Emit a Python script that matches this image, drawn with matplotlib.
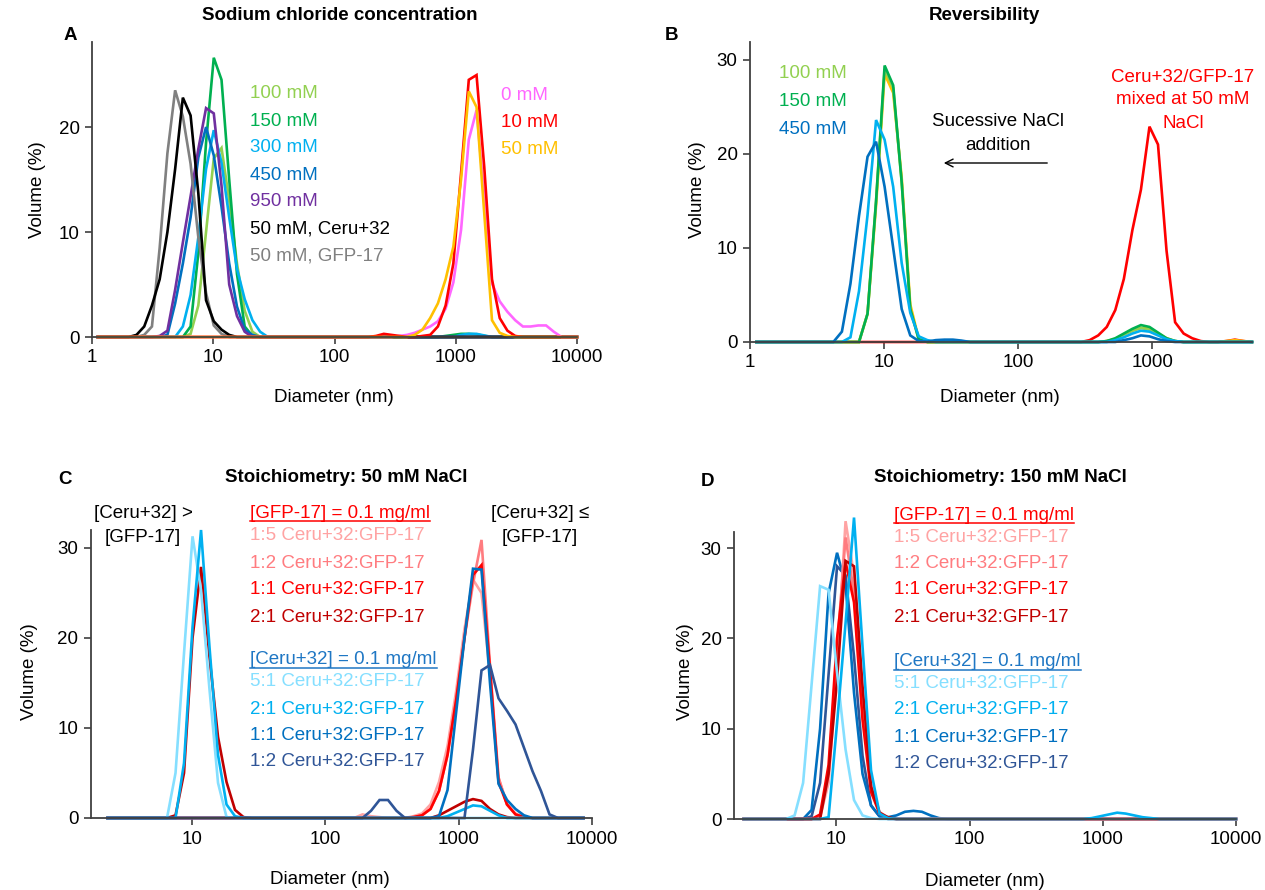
import numpy as np
import matplotlib
matplotlib.use("Agg")
import matplotlib.pyplot as plt

plt.rcParams['font.family'] = ['Liberation Sans', 'DejaVu Sans']

W, H = 1265, 890
FS = 13.5

# DLS size classes (nm)
BINS = [0.4, 0.4632, 0.5365, 0.6213, 0.7195, 0.8332, 0.9649, 1.117, 1.294, 1.499,
        1.736, 2.01, 2.328, 2.696, 3.122, 3.615, 4.187, 4.849, 5.615, 6.503,
        7.531, 8.721, 10.1, 11.7, 13.54, 15.69, 18.17, 21.04, 24.36, 28.21,
        32.67, 37.84, 43.82, 50.75, 58.77, 68.06, 78.82, 91.28, 105.7, 122.4,
        141.8, 164.2, 190.1, 220.2, 255.0, 295.3, 342.0, 396.1, 458.7, 531.2,
        615.1, 712.4, 825.0, 955.4, 1106, 1281, 1484, 1718, 1990, 2305,
        2669, 3091, 3580, 4145, 4801, 5560, 6439, 7456, 8635, 10000]

# curves: list of (first size class, volume % values from there on), zero elsewhere
# panel A - sodium chloride concentration
A_100MM = [(6.503, [0.3, 3, 10, 17, 18, 13, 7, 2.5, 0.5])]
A_150MM = [(6.503, [1, 8, 18.5, 26.6, 24.5, 15, 6, 1, 0.1]),
           (825.0, [0.1, 0.2, 0.3, 0.3, 0.25, 0.1])]
A_300MM = [(5.615, [1, 4, 9.5, 16, 19.7, 16.6, 11.4, 6.5, 3.6, 1.6, 0.5]),
           (1106, [0.2, 0.3, 0.3, 0.15])]
A_450MM = [(4.187, [0.2, 3.2, 7, 11.4, 17.1, 20, 17.3, 12.4, 7, 2.9, 0.7, 0.2])]
A_950MM = [(3.615, [0.1, 0.6, 4.5, 9, 13.4, 17.9, 21.8, 21.3, 14.4, 5, 2, 0.5])]
A_CERU = [(2.328, [0.2, 1.0, 3, 5.5, 10, 16, 22.8, 21.1, 13.7, 3.5, 1.5, 0.7, 0.2])]
A_GFP = [(2.696, [0.2, 1, 8.5, 17.5, 23.5, 21, 16.5, 9.5, 4.2, 1.1, 0.3])]
A_0MM = [(342.0, [0.1, 0.2, 0.4, 0.7, 1.0, 1.5, 2.7, 5.2, 10.2, 18.8, 21.6, 13.4, 5.1,
                  3.4, 2.4, 1.6, 1.0, 1.0, 1.1, 1.1, 0.5, 0])]
A_10MM = [(220.2, [0.1, 0.3, 0.2, 0.1, 0, 0, 0.1, 0.2, 1, 3, 7, 15.6, 24.5, 24.95,
                   16.2, 5.5, 1.8, 0.6, 0.1])]
A_50MM = [(458.7, [0.2, 0.7, 1.8, 3.2, 5.5, 8.6, 15, 23.4, 21.9, 11.8, 1.6, 0.4, 0.1])]

# panel B - reversibility
B_MIX = [(342.0, [0.2, 0.7, 1.6, 3.4, 6.7, 11.9, 16.2, 22.9, 21, 9.7, 2.1, 0.9, 0.4, 0.1]),
         (3580, [0.1, 0.25, 0.1])]
B_50 = [(6.503, [0, 3, 14.5, 28.5, 26.5, 17.5, 4, 0.3]),
        (458.7, [0.1, 0.3, 0.8, 1.2, 1.5, 1.4, 0.9, 0.4, 0.1]),
        (3580, [0.1, 0.2, 0.1])]
B_100 = [(6.503, [0, 3, 15, 29, 27, 17, 3.5, 0.2]),
         (458.7, [0.1, 0.3, 0.8, 1.2, 1.5, 1.3, 0.8, 0.3, 0.1])]
B_150 = [(6.503, [0, 3, 15, 29.4, 27.3, 17, 3.5, 0.3]),
         (458.7, [0.1, 0.4, 0.9, 1.4, 1.8, 1.6, 1.0, 0.4, 0.1])]
B_300 = [(5.615, [0.5, 5.4, 13.5, 23.6, 21.5, 16.5, 8.4, 3.1, 0.6, 0.2]),
         (531.2, [0.2, 0.5, 0.9, 1.2, 1.1, 0.7, 0.3, 0.1])]
B_450 = [(4.849, [1.1, 6.2, 13.4, 19.7, 21.3, 16.5, 10, 3.5, 0.7, 0.1, 0.05, 0.2, 0.25, 0.25, 0.15]),
         (615.1, [0.2, 0.4, 0.7, 0.6, 0.3, 0.1])]

# panel C - stoichiometry at 50 mM NaCl
C_R15 = [(190.1, [0.4, 0.2, 0.1]),
         (458.7, [0.2, 0.5, 1.5, 4, 8, 14, 21, 26.5, 25, 16, 4.5, 1.5, 0.5, 0.1])]
C_R12 = [(458.7, [0.1, 0.3, 1, 3, 7, 13, 20, 26, 30.9, 17, 4.5, 1.5, 0.4, 0.1])]
C_R11 = [(458.7, [0.1, 0.3, 1, 3, 7, 13, 20, 27, 28.1, 16.5, 4, 1.5, 0.4, 0.1])]
C_R21 = [(6.503, [0, 0.3, 5, 20, 27.9, 17.9, 9, 4, 0.9, 0.1]),
         (712.4, [0.3, 0.8, 1.3, 1.8, 2.1, 1.9, 1.0, 0.4, 0.1])]
C_B51 = [(6.503, [0, 5, 18.3, 31.3, 25.3, 14.3, 3.9, 0.1])]
C_B21 = [(7.531, [0, 6.1, 21.2, 32, 19, 7, 1.5, 0.2]),
         (825.0, [0.2, 0.6, 1.0, 1.4, 1.3, 0.8, 0.3])]
C_B11 = [(615.1, [0, 0.2, 3.1, 11.6, 20, 27.7, 27.6, 15, 3.8, 2, 1, 0.3])]
C_B12 = [(190.1, [0, 0.8, 2.0, 2.0, 0.8, 0]),
         (1106, [0, 7.6, 16.4, 17, 13.3, 11.9, 10.4, 7.8, 5.2, 3, 0.4, 0])]

# panel D - stoichiometry at 150 mM NaCl
D_R15 = [(7.531, [0.2, 4, 17, 33, 27, 13, 4, 0.8, 0.1])]
D_R12 = [(7.531, [0.3, 5, 19, 31.2, 25, 12, 3.5, 0.6, 0.1])]
D_R11 = [(7.531, [0.5, 6, 20, 28.5, 24, 11, 3, 0.6, 0.1])]
D_R21 = [(7.531, [0, 5, 15.4, 28.6, 28, 14.7, 3.6, 0.7, 0.2])]
D_B51 = [(4.849, [0.4, 4, 14.9, 25.8, 25.4, 16.2, 7.7, 2.1, 0.4, 0.1])]
D_B21 = [(8.721, [0.2, 10.6, 21.7, 33.4, 19.1, 5.4, 0.6, 0.1]),
         (825.0, [0.1, 0.3, 0.5, 0.7, 0.6, 0.4, 0.2, 0.1])]
D_B11 = [(5.615, [0, 1, 10, 25, 29.5, 26, 14, 5, 1.5, 0.3]),
         (24.36, [0.2, 0.4, 0.8, 0.9, 0.8, 0.4, 0.1])]
D_B12 = [(5.615, [0, 0.3, 4, 16, 28, 27, 18, 7, 1.5, 0.3])]

RED_LABELS = ['1:5 Ceru+32:GFP-17', '1:2 Ceru+32:GFP-17',
              '1:1 Ceru+32:GFP-17', '2:1 Ceru+32:GFP-17']
BLUE_LABELS = ['5:1 Ceru+32:GFP-17', '2:1 Ceru+32:GFP-17',
               '1:1 Ceru+32:GFP-17', '1:2 Ceru+32:GFP-17']
REDS = ['#FFA3A3', '#FF7C80', '#FF0000', '#C00000']
BLUES = ['#85DFFF', '#00B0F0', '#0070C0', '#2F5597']

AXCOL = '#404040'


def profile(segments, lo, hi):
    sizes = np.array(BINS)
    vol = np.zeros(len(BINS))
    for start, vals in segments:
        i = BINS.index(start)
        vol[i:i + len(vals)] = vals
    keep = (sizes >= lo) & (sizes <= hi)
    return sizes[keep], vol[keep]


def fx(x):
    return x / W


def fy(y):
    return 1 - y / H


def put(fig, x, y, s, **kw):
    kw.setdefault('fontsize', FS)
    kw.setdefault('va', 'center')
    return fig.text(fx(x), fy(y), s, **kw)


def put_lines(fig, x, y0, step, lines, **kw):
    # multi-line centred text, one text per line for exact spacing
    for i, s in enumerate(lines):
        put(fig, x, y0 + step * i, s, ha='center', **kw)


def make_axes(fig, l, t, r, b):
    ax = fig.add_axes([fx(l), fy(b), fx(r) - fx(l), fy(t) - fy(b)])
    ax.set_xscale('log')
    for s in ['top', 'right']:
        ax.spines[s].set_visible(False)
    for s in ['left', 'bottom']:
        ax.spines[s].set_color(AXCOL)
        ax.spines[s].set_linewidth(1.3)
    ax.tick_params(direction='out', length=5, width=1.2, color=AXCOL,
                   labelsize=FS, pad=4)
    ax.tick_params(which='minor', length=0)
    return ax


def draw(ax, segments, color, lo, hi, lw=1.9):
    d, v = profile(segments, lo, hi)
    ax.plot(d, v, color=color, lw=lw, clip_on=False, solid_joinstyle='miter')


def set_xt(ax, ticks):
    ax.set_xticks(ticks)
    ax.set_xticklabels([str(t) for t in ticks])
    ax.xaxis.set_minor_locator(matplotlib.ticker.NullLocator())


fig = plt.figure(figsize=(W / 100, H / 100), dpi=100)

# ---------------- A ----------------
axA = make_axes(fig, 92, 42, 577, 337)
for seg, col in [(A_100MM, '#92D050'), (A_150MM, '#00B050'), (A_300MM, '#00B0F0'),
                 (A_450MM, '#0070C0'), (A_950MM, '#7030A0'), (A_GFP, '#808080'),
                 (A_CERU, '#000000'), (A_0MM, '#FF66FF'), (A_10MM, '#FF0000'),
                 (A_50MM, '#FFC000')]:
    draw(axA, seg, col, 1, 10000)
axA.set_xlim(1, 10000)
axA.set_ylim(0, 28.1)
axA.set_yticks([0, 10, 20])
set_xt(axA, [1, 10, 100, 1000, 10000])

for i, (s, c) in enumerate([('100 mM', '#92D050'), ('150 mM', '#00B050'),
                            ('300 mM', '#00B0F0'), ('450 mM', '#0070C0'),
                            ('950 mM', '#7030A0'), ('50 mM, Ceru+32', '#000000'),
                            ('50 mM, GFP-17', '#808080')]):
    put(fig, 250, 94 + 27 * i, s, color=c)
for i, (s, c) in enumerate([('0 mM', '#FF66FF'), ('10 mM', '#FF0000'), ('50 mM', '#FFC000')]):
    put(fig, 501, 96 + 26.5 * i, s, color=c)

# ---------------- B ----------------
axB = make_axes(fig, 750, 42, 1252, 342)
for seg, col in [(B_MIX, '#FF0000'), (B_50, '#FFC000'), (B_100, '#92D050'),
                 (B_150, '#00B050'), (B_300, '#00B0F0'), (B_450, '#0070C0')]:
    draw(axB, seg, col, 1, 5560)
axB.set_xlim(1, 5560)
axB.set_ylim(0, 31.9)
axB.set_yticks([0, 10, 20, 30])
set_xt(axB, [1, 10, 100, 1000])

for i, (s, c) in enumerate([('100 mM', '#92D050'), ('150 mM', '#00B050'), ('450 mM', '#0070C0')]):
    put(fig, 779, 73 + 28 * i, s, color=c)
put_lines(fig, 998, 122, 23, ['Sucessive NaCl', 'addition'])
axB.annotate('', xy=(fx(941), fy(163)), xytext=(fx(1050), fy(163)),
             xycoords='figure fraction', textcoords='figure fraction',
             arrowprops=dict(arrowstyle='->', lw=1.0, color='black', mutation_scale=14))
put_lines(fig, 1183, 77, 23, ['Ceru+32/GFP-17', 'mixed at 50 mM', 'NaCl'], color='#FF0000')

# ---------------- C ----------------
axC = make_axes(fig, 91, 530, 592, 818)
for seg, col in zip([C_R15, C_R12, C_R11, C_R21], REDS):
    draw(axC, seg, col, 2.3, 8700)
for seg, col in zip([C_B51, C_B21, C_B11, C_B12], BLUES):
    draw(axC, seg, col, 2.3, 8700)
axC.set_xlim(1.75, 10000)
axC.set_ylim(0, 32)
axC.set_yticks([0, 10, 20, 30])
set_xt(axC, [10, 100, 1000, 10000])
put_lines(fig, 143, 513, 24, ['[Ceru+32] >', '[GFP-17]'])
put_lines(fig, 540, 513, 24, ['[Ceru+32] \u2264', '[GFP-17]'])

# ---------------- D ----------------
axD = make_axes(fig, 734, 532, 1236, 819)
for seg, col in zip([D_B12, D_B11], BLUES[3:1:-1]):
    draw(axD, seg, col, 2.0, 10000)
for seg, col in zip([D_R15, D_R12, D_R11, D_R21], REDS):
    draw(axD, seg, col, 2.0, 10000)
for seg, col in zip([D_B51, D_B21], BLUES[:2]):
    draw(axD, seg, col, 2.0, 10000)
axD.set_xlim(1.7, 10000)
axD.set_ylim(0, 31.8)
axD.set_yticks([0, 10, 20, 30])
set_xt(axD, [10, 100, 1000, 10000])

# legends for C and D
heads = []
for x0, ys_r, ys_b in [(250, [513, 536, 563, 590, 617], [660, 682, 709, 736, 762]),
                       (894, [515, 537, 563, 590, 617], [662, 683, 710, 737, 763])]:
    heads.append(put(fig, x0, ys_r[0], '[GFP-17] = 0.1 mg/ml', color='#FF0000'))
    for y, s, c in zip(ys_r[1:], RED_LABELS, REDS):
        put(fig, x0, y, s, color=c)
    heads.append(put(fig, x0, ys_b[0], '[Ceru+32] = 0.1 mg/ml', color='#1F77C4'))
    for y, s, c in zip(ys_b[1:], BLUE_LABELS, BLUES):
        put(fig, x0, y, s, color=c)

# titles, panel letters, axis labels
for x, y, s in [(340, 15, 'Sodium chloride concentration'), (984, 15, 'Reversibility'),
                (346, 478, 'Stoichiometry: 50 mM NaCl'), (1000, 478, 'Stoichiometry: 150 mM NaCl')]:
    put(fig, x, y, s, ha='center', fontweight='bold')
for x, y, s in [(70, 36, 'A'), (672, 35, 'B'), (65, 479, 'C'), (707, 482, 'D')]:
    put(fig, x, y, s, ha='center', fontweight='bold')
for x, y in [(334, 398), (1000, 398), (330, 879), (985, 881)]:
    put(fig, x, y, 'Diameter (nm)', ha='center')
for x, y in [(37, 190), (697, 190), (30, 672), (686, 672)]:
    put(fig, x, y, 'Volume (%)', ha='center', rotation=90)

# underline the group headings
fig.canvas.draw()
rend = fig.canvas.get_renderer()
for t in heads:
    bb = t.get_window_extent(rend)
    fig.add_artist(matplotlib.lines.Line2D([bb.x0 / W, bb.x1 / W],
                                           [(bb.y0 + 1) / H, (bb.y0 + 1) / H],
                                           color=t.get_color(), lw=1.1))

fig.savefig('out.png', dpi=100)
